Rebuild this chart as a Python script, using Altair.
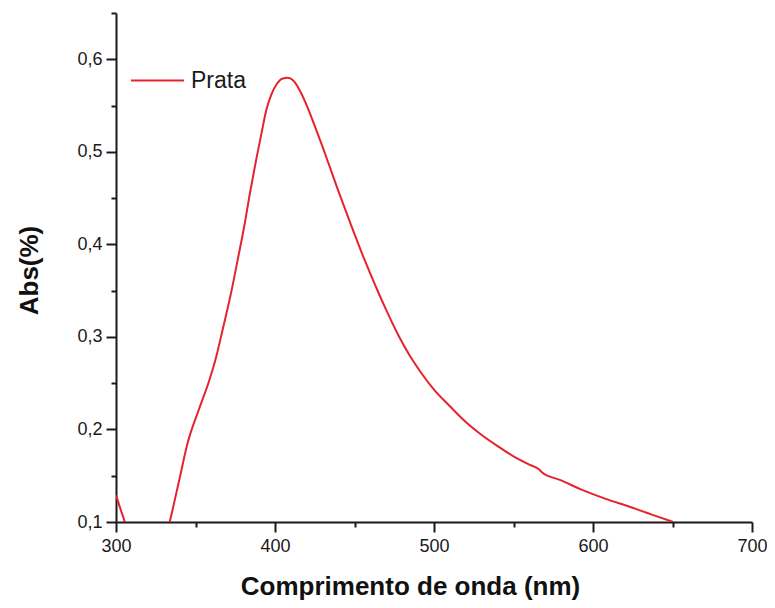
import altair as alt
import pandas as pd

# Data
wavelength = [300, 305.6, 310, 320, 330, 333.75, 340, 345, 352, 358.75, 362.5, 367.5,
              372.3, 376.5, 380.6, 384.2, 388, 391.5, 394.5, 397.5, 401, 404.5, 408, 411.5,
              416, 420, 425, 430, 435, 440, 445, 450, 455, 460, 465, 470, 477.5, 485,
              492, 500, 510, 520, 530, 540, 550, 560, 566, 568, 580, 592, 608, 623, 637, 650.4]
absorbance = [0.129, 0.100, 0.080, 0.065, 0.075, 0.100, 0.147, 0.185, 0.221, 0.2535, 0.275, 0.311,
              0.347, 0.383, 0.419, 0.455, 0.490, 0.520, 0.545, 0.561, 0.573, 0.579, 0.580, 0.577,
              0.565, 0.550, 0.528, 0.505, 0.481, 0.457, 0.434, 0.411, 0.389, 0.368, 0.348, 0.329,
              0.302, 0.279, 0.261, 0.243, 0.225, 0.208, 0.194, 0.182, 0.171, 0.162, 0.157, 0.1535,
              0.145, 0.1355, 0.125, 0.1165, 0.108, 0.100]
series_name = "Prata"

x_ticks = [300, 350, 400, 450, 500, 550, 600, 650, 700]
y_ticks = [0.1, 0.15, 0.2, 0.25, 0.3, 0.35, 0.4, 0.45, 0.5, 0.55, 0.6, 0.65]

df = pd.DataFrame({"wl": wavelength, "abs": absorbance, "serie": [series_name] * len(wavelength)})

FONT = "Liberation Sans"
AX = "#1a1a1a"

x_axis = alt.Axis(
    title="Comprimento de onda (nm)",
    titleFont=FONT, titleFontSize=26, titleFontWeight="bold", titleColor="#111111",
    titleX=294, titleY=72, titleBaseline="alphabetic", titleAlign="center",
    values=x_ticks,
    labelExpr="datum.value % 100 == 0 ? datum.label : ''",
    labelFlush=False, labelOverlap=False,
    labelFont=FONT, labelFontSize=18, labelColor="#1a1a1a", labelPadding=5,
    tickSize={"condition": {"test": "datum.value % 100 == 0", "value": 10}, "value": 5},
    tickWidth=2, tickColor=AX, domainWidth=2, domainColor=AX, grid=False,
)

y_axis = alt.Axis(
    title="Abs(%)",
    titleFont=FONT, titleFontSize=26, titleFontWeight="bold", titleColor="#111111",
    titleX=-79, titleY=257, titleBaseline="alphabetic", titleAlign="center", titleAngle=270,
    values=y_ticks,
    labelExpr="round(datum.value * 100) % 10 == 0 ? replace(format(datum.value, '.1f'), '.', ',') : ''",
    labelFlush=False, labelOverlap=False,
    labelFont=FONT, labelFontSize=18, labelColor="#1a1a1a", labelPadding=4,
    tickSize={"condition": {"test": "round(datum.value * 100) % 10 == 0", "value": 10}, "value": 5},
    tickWidth=2, tickColor=AX, domainWidth=2, domainColor=AX, grid=False,
)

chart = alt.Chart(df).mark_line(clip=True, strokeWidth=2, interpolate="monotone").encode(
    x=alt.X("wl:Q", scale=alt.Scale(domain=[300, 700], nice=False, zero=False), axis=x_axis),
    y=alt.Y("abs:Q", scale=alt.Scale(domain=[0.1, 0.65], nice=False, zero=False), axis=y_axis),
    color=alt.Color(
        "serie:N",
        scale=alt.Scale(domain=[series_name], range=["#e5232d"]),
        legend=alt.Legend(
            title=None, orient="none", legendX=14, legendY=40, padding=0,
            symbolType="stroke", symbolSize=2809, symbolStrokeWidth=2,
            labelFont=FONT, labelFontSize=23, labelColor="#1a1a1a", labelOffset=6,
        ),
    ),
).properties(
    width=636, height=509,
    autosize=alt.AutoSizeParams(type="none"),
    padding={"left": 108, "top": 5, "right": 15, "bottom": 78},
).configure_view(stroke=None)

chart.save("out.html", embed_options={"renderer": "svg", "actions": False})
